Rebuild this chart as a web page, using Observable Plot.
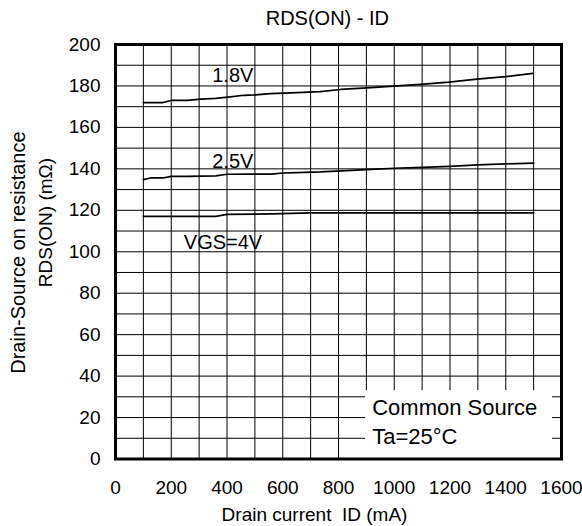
<!DOCTYPE html>
<html>
<head>
<meta charset="utf-8">
<script src="https://cdn.jsdelivr.net/npm/d3@7"></script>
<script src="https://cdn.jsdelivr.net/npm/@observablehq/plot@0.6"></script>
<style>
  html, body { margin: 0; padding: 0; background: #fff; overflow: hidden; }
</style>
</head>
<body>
<div id="chart"></div>
<script>
// Drain current ID (mA) and on-resistance RDS(ON) (mΩ) for each gate voltage
const id18  = [100, 170, 200, 257, 305, 359, 404, 460, 502, 556, 652, 735, 807, 903, 998, 1094, 1196, 1297, 1399, 1497];
const rds18 = [172, 172, 173, 173, 173.6, 174, 174.6, 175.5, 175.7, 176.3, 176.8, 177.3, 178.3, 179.1, 179.9, 180.8, 181.8, 183.3, 184.5, 186.1];

const id25  = [100, 125, 170, 200, 260, 360, 400, 500, 560, 600, 650, 735, 810, 900, 1000, 1100, 1200, 1300, 1400, 1500];
const rds25 = [134.8, 135.6, 135.6, 136.4, 136.4, 136.6, 137.4, 137.5, 137.5, 138, 138.2, 138.5, 139, 139.6, 140.3, 140.7, 141.2, 141.9, 142.4, 142.8];

const id4   = [100, 360, 400, 500, 560, 700, 1500];
const rds4  = [117.1, 117.1, 118, 118.2, 118.3, 118.8, 118.8];

// Axis ticks and grid
const xTicks = [0, 200, 400, 600, 800, 1000, 1200, 1400, 1600];
const yTicks = [0, 20, 40, 60, 80, 100, 120, 140, 160, 180, 200];
const xGrid = [0, 100, 200, 300, 400, 500, 600, 700, 800, 900, 1000, 1100, 1200, 1300, 1400, 1500, 1600];
const yGrid = [0, 10, 20, 30, 40, 50, 60, 70, 80, 90, 100, 110, 120, 130, 140, 150, 160, 170, 180, 190, 200];

// Curve labels: text, anchor current, anchor resistance
const curveLabels = ["1.8V", "2.5V", "VGS=4V"];
const curveLabelX = [347, 347, 245];
const curveLabelY = [181.8, 140.3, 101.4];

// Conditions note
const noteLines = ["Common Source", "Ta=25°C"];
const noteY = [21.3, 7.3];

const rows = (ids, vals, name) => ids.map((x, i) => ({ id: x, rds: vals[i], vgs: name }));
const curves = [
  ...rows(id18, rds18, "1.8V"),
  ...rows(id25, rds25, "2.5V"),
  ...rows(id4, rds4, "4V")
];
const labels = curveLabels.map((t, i) => ({ t, x: curveLabelX[i], y: curveLabelY[i] }));
const notes = noteLines.map((t, i) => ({ t, x: 921, y: noteY[i] }));

const font = "'Liberation Sans', Arial, Helvetica, sans-serif";

const chart = Plot.plot({
  width: 582,
  height: 526,
  marginLeft: 115,
  marginRight: 21,
  marginTop: 44,
  marginBottom: 67.5,
  style: { fontFamily: font, fontSize: "19px", color: "#000", background: "#fff", overflow: "visible" },
  x: { domain: [0, 1600] },
  y: { domain: [0, 200] },
  marks: [
    Plot.ruleX(xGrid, { stroke: "#000", strokeWidth: 1 }),
    Plot.ruleY(yGrid, { stroke: "#000", strokeWidth: 1 }),
    Plot.rect([{ x1: 897, x2: 1568, y1: 0, y2: 33 }], { x1: "x1", x2: "x2", y1: "y1", y2: "y2", fill: "#fff" }),
    Plot.line(curves, { x: "id", y: "rds", z: "vgs", stroke: "#000", strokeWidth: 1.7 }),
    Plot.text(labels, { x: "x", y: "y", text: "t", textAnchor: "start", lineAnchor: "bottom", fontSize: 20, fill: "#000", letterSpacing: "0.3px" }),
    Plot.text(notes, { x: "x", y: "y", text: "t", textAnchor: "start", lineAnchor: "bottom", fontSize: 22, fill: "#000", letterSpacing: "0.9px" }),
    Plot.frame({ stroke: "#000", strokeWidth: 3 }),
    Plot.axisX({ ticks: xTicks, tickSize: 0, tickPadding: 21, tickFormat: d => String(d), label: null, fontSize: 19, letterSpacing: "0.3px" }),
    Plot.axisY({ ticks: yTicks, tickSize: 0, tickPadding: 15, tickFormat: d => String(d), label: null, fontSize: 19, letterSpacing: "0.3px" }),
    // Title
    Plot.text(["RDS(ON) - ID"], { x: 760, y: 209.2, text: d => d, lineAnchor: "bottom", fontSize: 20, fill: "#000", letterSpacing: "0.8px" }),
    // X axis title
    Plot.text(["Drain current\u00a0 ID\u00a0(mA)"], { x: 714, y: -29.7, text: d => d, lineAnchor: "bottom", fontSize: 19, fill: "#000", letterSpacing: "0.2px" }),
    // Y axis title, two lines
    Plot.text(["Drain-Source on resistance"], { x: -323, y: 99.6, text: d => d, rotate: -90, lineAnchor: "bottom", fontSize: 20, fill: "#000", letterSpacing: "0.3px" }),
    Plot.text(["RDS(ON) (mΩ)"], { x: -227, y: 114.1, text: d => d, rotate: -90, lineAnchor: "bottom", fontSize: 19, fill: "#000" })
  ]
});

document.getElementById("chart").appendChild(chart);
</script>
</body>
</html>
